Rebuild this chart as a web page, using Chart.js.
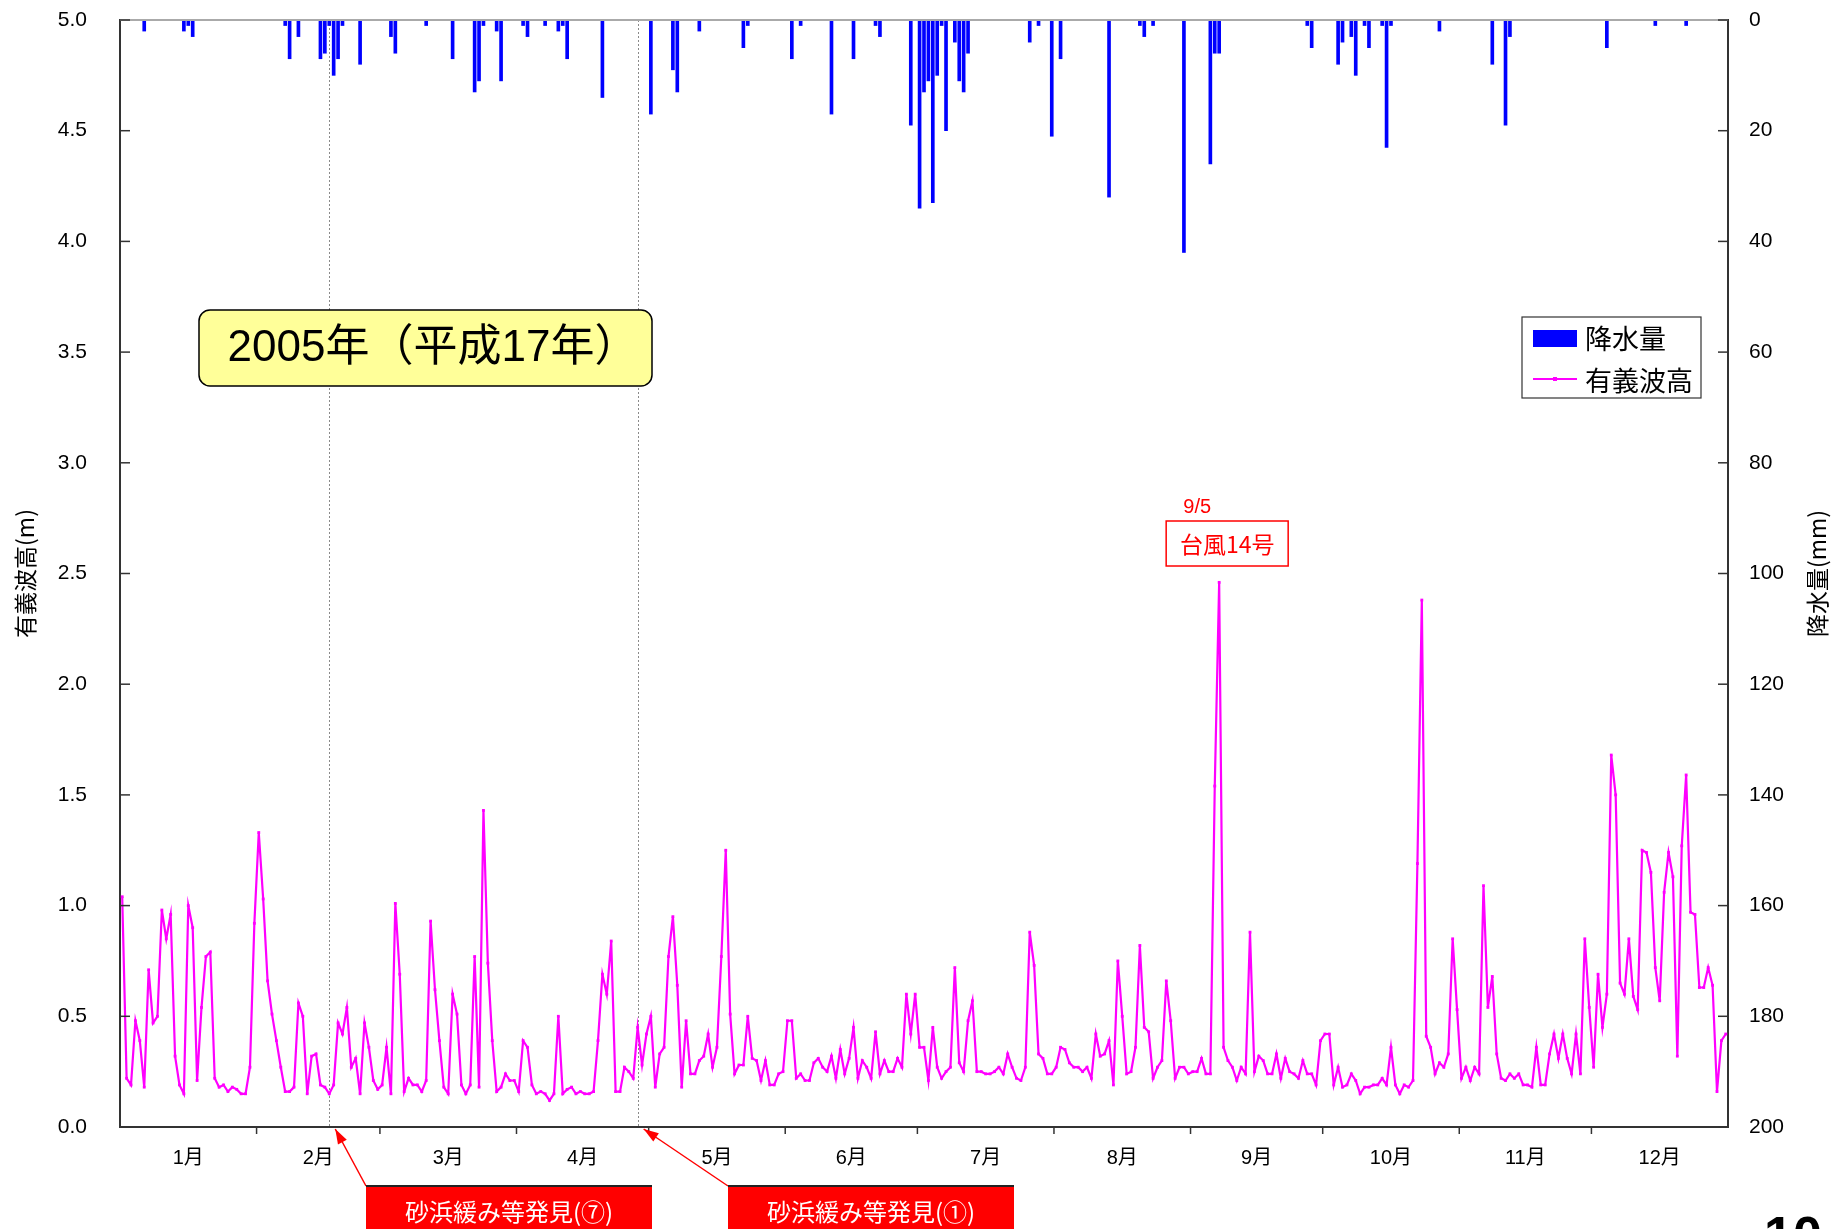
<!DOCTYPE html>
<html>
<head>
<meta charset="utf-8">
<script src="https://cdn.jsdelivr.net/npm/chart.js@4.4.1/dist/chart.umd.min.js"></script>
<style>
  body { margin: 0; background: #fff; }
  canvas { display: block; }
</style>
</head>
<body>
<canvas id="graph" width="1832" height="1229"></canvas>
<script>
const monthLabels = ["1月", "2月", "3月", "4月", "5月", "6月", "7月", "8月", "9月", "10月", "11月", "12月"];
const monthStarts = [0, 31, 59, 90, 120, 151, 181, 212, 243, 273, 304, 334, 365];

// daily significant wave height (m), 2005-01-01 .. 2005-12-31
const waveHeight = [
  1.04, 0.22, 0.19, 0.48, 0.39, 0.18, 0.71, 0.47, 0.50, 0.98,
  0.85, 0.96, 0.32, 0.19, 0.15, 1.00, 0.90, 0.21, 0.54, 0.77,
  0.79, 0.22, 0.18, 0.19, 0.16, 0.18, 0.17, 0.15, 0.15, 0.27,
  0.92, 1.33, 1.03, 0.66, 0.51, 0.39, 0.27, 0.16, 0.16, 0.18,
  0.56, 0.50, 0.15, 0.32, 0.33, 0.19, 0.18, 0.15, 0.19, 0.47,
  0.42, 0.54, 0.27, 0.31, 0.15, 0.47, 0.36, 0.21, 0.17, 0.19,
  0.36, 0.15, 1.01, 0.69, 0.16, 0.22, 0.19, 0.19, 0.16, 0.21,
  0.93, 0.62, 0.39, 0.18, 0.15, 0.60, 0.51, 0.19, 0.15, 0.19,
  0.77, 0.18, 1.43, 0.74, 0.39, 0.16, 0.18, 0.24, 0.21, 0.21,
  0.16, 0.39, 0.36, 0.19, 0.15, 0.16, 0.15, 0.12, 0.15, 0.50,
  0.15, 0.17, 0.18, 0.15, 0.16, 0.15, 0.15, 0.16, 0.39, 0.69,
  0.60, 0.84, 0.16, 0.16, 0.27, 0.25, 0.22, 0.45, 0.28, 0.42,
  0.50, 0.18, 0.33, 0.36, 0.77, 0.95, 0.64, 0.18, 0.48, 0.24,
  0.24, 0.30, 0.32, 0.42, 0.27, 0.36, 0.77, 1.25, 0.51, 0.24,
  0.28, 0.28, 0.50, 0.31, 0.30, 0.21, 0.30, 0.19, 0.19, 0.24,
  0.25, 0.48, 0.48, 0.22, 0.24, 0.21, 0.21, 0.29, 0.31, 0.27,
  0.25, 0.32, 0.22, 0.35, 0.24, 0.31, 0.45, 0.22, 0.30, 0.27,
  0.22, 0.43, 0.24, 0.30, 0.25, 0.25, 0.31, 0.27, 0.60, 0.42,
  0.60, 0.36, 0.36, 0.21, 0.45, 0.27, 0.22, 0.25, 0.27, 0.72,
  0.29, 0.25, 0.48, 0.57, 0.25, 0.25, 0.24, 0.24, 0.25, 0.27,
  0.24, 0.33, 0.27, 0.22, 0.21, 0.27, 0.88, 0.73, 0.33, 0.31,
  0.24, 0.24, 0.27, 0.36, 0.35, 0.29, 0.27, 0.27, 0.25, 0.27,
  0.22, 0.42, 0.32, 0.33, 0.39, 0.19, 0.75, 0.50, 0.24, 0.25,
  0.36, 0.82, 0.45, 0.43, 0.22, 0.27, 0.30, 0.66, 0.48, 0.22,
  0.27, 0.27, 0.24, 0.25, 0.25, 0.31, 0.24, 0.24, 1.54, 2.46,
  0.36, 0.30, 0.27, 0.21, 0.27, 0.24, 0.88, 0.25, 0.32, 0.30,
  0.24, 0.24, 0.33, 0.22, 0.31, 0.25, 0.24, 0.22, 0.30, 0.24,
  0.24, 0.19, 0.39, 0.42, 0.42, 0.19, 0.27, 0.18, 0.19, 0.24,
  0.21, 0.15, 0.18, 0.18, 0.19, 0.19, 0.22, 0.19, 0.36, 0.19,
  0.15, 0.19, 0.18, 0.21, 1.19, 2.38, 0.41, 0.36, 0.24, 0.29,
  0.27, 0.33, 0.85, 0.53, 0.22, 0.27, 0.21, 0.27, 0.24, 1.09,
  0.54, 0.68, 0.33, 0.22, 0.21, 0.24, 0.22, 0.24, 0.19, 0.19,
  0.18, 0.36, 0.19, 0.19, 0.33, 0.42, 0.31, 0.42, 0.31, 0.24,
  0.42, 0.24, 0.85, 0.54, 0.27, 0.69, 0.45, 0.60, 1.68, 1.50,
  0.65, 0.60, 0.85, 0.59, 0.53, 1.25, 1.24, 1.15, 0.72, 0.57,
  1.06, 1.24, 1.13, 0.32, 1.27, 1.59, 0.97, 0.96, 0.63, 0.63,
  0.72, 0.64, 0.16, 0.39, 0.42
];

// rainy days (day of year, 0 = Jan 1) and daily rainfall (mm)
const rainDays = [5, 14, 15, 16, 37, 38, 40, 45, 46, 47, 48, 49, 50, 54, 61, 62, 69, 75, 80, 81, 82,
  85, 86, 91, 92, 96, 99, 100, 101, 109, 120, 125, 126, 131, 141, 142, 152, 154, 161, 166, 171, 172,
  179, 181, 182, 183, 184, 185, 186, 187, 189, 190, 191, 192, 206, 208, 211, 213, 224, 231, 232, 234,
  241, 247, 248, 249, 269, 270, 276, 277, 279, 280, 282, 283, 286, 287, 288, 299, 311, 314, 315, 337,
  348, 355];
const rainMm = [2, 2, 1, 3, 1, 7, 3, 7, 6, 1, 10, 7, 1, 8, 3, 6, 1, 7, 13, 11, 1,
  2, 11, 1, 3, 1, 2, 1, 7, 14, 17, 9, 13, 2, 5, 1, 7, 1, 17, 7, 1, 3,
  19, 34, 13, 11, 33, 10, 1, 20, 4, 11, 13, 6, 4, 1, 21, 7, 32, 1, 3, 1,
  42, 26, 6, 6, 1, 5, 8, 4, 3, 10, 1, 5, 1, 23, 1, 2, 8, 19, 3, 5,
  1, 1];

// days marked with dotted lines (砂浜緩み等発見)
const eventDays = [47, 117];
const eventLabels = ["砂浜緩み等発見(⑦)", "砂浜緩み等発見(①)"];
const typhoonDay = 249;

const FONT = '"Liberation Sans", "Noto Sans CJK JP", sans-serif';
const JP = '"Noto Sans CJK JP", "Liberation Sans", sans-serif';

function seg(ctx, x1, y1, x2, y2) {
  ctx.beginPath();
  ctx.moveTo(x1, y1);
  ctx.lineTo(x2, y2);
  ctx.stroke();
}

function text(ctx, str, x, y, font, color, align) {
  ctx.font = font;
  ctx.fillStyle = color;
  ctx.textAlign = align || "center";
  ctx.textBaseline = "middle";
  ctx.fillText(str, x, y);
}

// y axes: fixed width, and no extra vertical room for the end labels
function fitY(width) {
  return (scale) => {
    scale.width = width;
    scale.paddingTop = 0;
    scale.paddingBottom = 0;
  };
}

const overlay = {
  id: "overlay",
  beforeDatasetsDraw(chart) {
    const { ctx, chartArea: area, scales: { x } } = chart;
    ctx.save();
    ctx.strokeStyle = "#8a8a8a";
    ctx.lineWidth = 1;
    ctx.setLineDash([2, 2]);
    eventDays.forEach(d => {
      const px = Math.round(x.getPixelForValue(d + 0.5)) + 0.5;
      seg(ctx, px, area.top, px, area.bottom);
    });
    ctx.restore();
  },
  afterDraw(chart) {
    const { ctx, chartArea: area, scales: { x, yL, yR } } = chart;
    ctx.save();

    // top frame
    ctx.strokeStyle = "#aaa";
    ctx.lineWidth = 2;
    seg(ctx, area.left, area.top, area.right, area.top);

    // inward ticks on y axes, outward ticks at month boundaries
    ctx.strokeStyle = "#333";
    ctx.lineWidth = 1.5;
    yL.ticks.forEach(t => {
      const py = yL.getPixelForValue(t.value);
      seg(ctx, area.left, py, area.left + 10, py);
    });
    yR.ticks.forEach(t => {
      const py = yR.getPixelForValue(t.value);
      seg(ctx, area.right - 10, py, area.right, py);
    });
    monthStarts.slice(1, -1).forEach(d => {
      const px = x.getPixelForValue(d);
      seg(ctx, px, area.bottom, px, area.bottom + 7);
    });

    // axis titles (both read bottom to top)
    const midY = (area.top + area.bottom) / 2;
    [["有義波高(m)", 25], ["降水量(mm)", 1817]].forEach(([t, px]) => {
      ctx.save();
      ctx.translate(px, midY);
      ctx.rotate(-Math.PI / 2);
      text(ctx, t, 0, 0, "23px " + JP, "#000");
      ctx.restore();
    });

    // year box
    ctx.fillStyle = "#ffff99";
    ctx.strokeStyle = "#000";
    ctx.lineWidth = 1.5;
    ctx.beginPath();
    ctx.roundRect(199, 310, 453, 76, 11);
    ctx.fill();
    ctx.stroke();
    text(ctx, "2005年（平成17年）", 433, 349, "44px " + FONT, "#000");

    // legend
    ctx.fillStyle = "#fff";
    ctx.fillRect(1522, 317, 179, 81);
    ctx.strokeStyle = "#333";
    ctx.lineWidth = 1.2;
    ctx.strokeRect(1522, 317, 179, 81);
    ctx.fillStyle = chart.data.datasets[1].backgroundColor;
    ctx.fillRect(1533, 330, 44, 17);
    text(ctx, chart.data.datasets[1].label, 1585, 339, "27px " + JP, "#000", "left");
    ctx.strokeStyle = chart.data.datasets[0].borderColor;
    ctx.lineWidth = 2;
    seg(ctx, 1533, 379, 1577, 379);
    ctx.fillStyle = chart.data.datasets[0].borderColor;
    ctx.fillRect(1553, 377, 4, 4);
    text(ctx, chart.data.datasets[0].label, 1585, 381, "27px " + JP, "#000", "left");

    // typhoon note
    const tx = x.getPixelForValue(typhoonDay + 0.5) + 8;
    text(ctx, "9/5", tx - 30, 507, "20px " + FONT, "#ff0000");
    ctx.fillStyle = "#fff";
    ctx.fillRect(tx - 61, 521, 122, 45);
    ctx.strokeStyle = "#ff0000";
    ctx.lineWidth = 1.5;
    ctx.strokeRect(tx - 61, 521, 122, 45);
    text(ctx, "台風14号", tx, 544, "23px " + JP, "#ff0000");

    // event boxes with arrows
    const boxLeft = [366, 728];
    eventDays.forEach((d, i) => {
      const bx = boxLeft[i], by = 1186;
      const tipX = x.getPixelForValue(d + 0.5) + 6, tipY = area.bottom + 2;
      ctx.strokeStyle = "#ff0000";
      ctx.fillStyle = "#ff0000";
      ctx.lineWidth = 1.5;
      seg(ctx, bx, by, tipX, tipY);
      const ang = Math.atan2(tipY - by, tipX - bx);
      ctx.beginPath();
      ctx.moveTo(tipX, tipY);
      ctx.lineTo(tipX - 15 * Math.cos(ang) + 5 * Math.sin(ang), tipY - 15 * Math.sin(ang) - 5 * Math.cos(ang));
      ctx.lineTo(tipX - 15 * Math.cos(ang) - 5 * Math.sin(ang), tipY - 15 * Math.sin(ang) + 5 * Math.cos(ang));
      ctx.closePath();
      ctx.fill();
      ctx.fillRect(bx, by, 286, 60);
      ctx.strokeStyle = "#222";
      ctx.lineWidth = 2;
      seg(ctx, bx, by, bx + 286, by);
      text(ctx, eventLabels[i], bx + 143, 1212, "24px " + JP, "#fff");
    });

    // page number (cut off by the bottom edge)
    ctx.font = "bold 52px " + FONT;
    ctx.fillStyle = "#000";
    ctx.textAlign = "left";
    ctx.textBaseline = "alphabetic";
    ctx.fillText("10", 1764, 1253);

    ctx.restore();
  }
};

Chart.defaults.font.family = FONT;
Chart.defaults.color = "#000";

const graph = new Chart(document.getElementById("graph").getContext("2d"), {
  type: "line",
  data: {
    datasets: [
      {
        label: "有義波高",
        data: waveHeight.map((v, i) => ({ x: i + 0.5, y: v })),
        yAxisID: "yL",
        borderColor: "#ff00ff",
        backgroundColor: "#ff00ff",
        borderWidth: 2.2,
        pointStyle: "rect",
        pointRadius: 2,
        pointBorderWidth: 0,
        fill: false,
        order: 1,
      },
      {
        type: "bar",
        label: "降水量",
        data: rainDays.map((d, i) => ({ x: d + 0.5, y: rainMm[i] })),
        yAxisID: "yR",
        backgroundColor: "#0000ff",
        barThickness: 3,
        grouped: false,
        order: 2,
      },
    ],
  },
  options: {
    responsive: false,
    animation: false,
    layout: { padding: { top: 20, left: 0, right: 0, bottom: 0 } },
    plugins: {
      legend: { display: false },
      tooltip: { enabled: false },
    },
    scales: {
      x: {
        type: "linear",
        min: 0,
        max: 365,
        offset: false,
        grid: { display: false, drawTicks: false },
        border: { color: "#333", width: 2 },
        afterBuildTicks: (scale) => {
          scale.ticks = monthLabels.map((m, i) => ({ value: (monthStarts[i] + monthStarts[i + 1]) / 2 }));
        },
        afterFit: (scale) => { scale.height = 102; },
        ticks: {
          autoSkip: false,
          maxRotation: 0,
          padding: 19,
          font: { size: 20 },
          callback: (value, index) => monthLabels[index],
        },
      },
      yL: {
        type: "linear",
        position: "left",
        min: 0,
        max: 5,
        grid: { display: false, drawTicks: false },
        border: { color: "#333", width: 2 },
        afterFit: fitY(120),
        ticks: {
          stepSize: 0.5,
          padding: 33,
          font: { size: 21 },
          callback: (v) => v.toFixed(1),
        },
      },
      yR: {
        type: "linear",
        position: "right",
        min: 0,
        max: 200,
        reverse: true,
        grid: { display: false, drawTicks: false },
        border: { color: "#333", width: 2 },
        afterFit: fitY(104),
        ticks: {
          stepSize: 20,
          padding: 21,
          font: { size: 21 },
        },
      },
    },
  },
  plugins: [overlay],
});
</script>
</body>
</html>
